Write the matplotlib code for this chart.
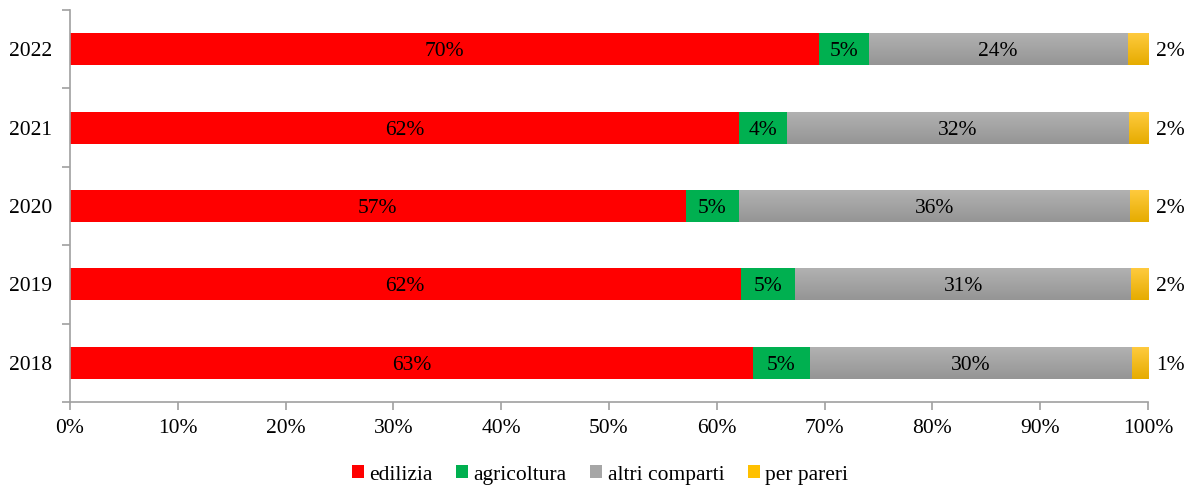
import matplotlib
matplotlib.use("Agg")
import matplotlib.pyplot as plt
import numpy as np
from matplotlib.colors import LinearSegmentedColormap

plt.rcParams['font.family'] = ['Liberation Serif', 'DejaVu Serif']

years = ['2018', '2019', '2020', '2021', '2022']
edilizia = [63.4, 62.2, 57.1, 62.1, 69.5]
agricoltura = [5.2, 5.1, 5.0, 4.4, 4.6]
altri = [29.9, 31.1, 36.2, 31.7, 24.0]
pareri = [1.5, 1.6, 1.7, 1.8, 1.9]
labels_edilizia = ['63%', '62%', '57%', '62%', '70%']
labels_agricoltura = ['5%', '5%', '5%', '4%', '5%']
labels_altri = ['30%', '31%', '36%', '32%', '24%']
labels_pareri = ['1%', '2%', '2%', '2%', '2%']
series_names = ['edilizia', 'agricoltura', 'altri comparti', 'per pareri']
xticks = [0, 10, 20, 30, 40, 50, 60, 70, 80, 90, 100]

fig = plt.figure(figsize=(11.92, 4.88), dpi=100)
ax = fig.add_axes([70/1192, 1 - 402/488, (1148-70)/1192, (402-10)/488])

y = np.arange(len(years))
h = 0.41
series = [edilizia, agricoltura, altri, pareri]
colors = ['#FF0000', '#00B050', '#A6A6A6', '#FFC000']
gradients = [None, None, ('#B2B2B2', '#959595'), ('#FFCB40', '#E6AC00')]
lbls = [labels_edilizia, labels_agricoltura, labels_altri, labels_pareri]

left = np.zeros(len(years))
for vals, col, grad, name, lab in zip(series, colors, gradients, series_names, lbls):
    vals = np.array(vals)
    bars = ax.barh(y, vals / 100, left=left / 100, height=h, color=col, label=name, linewidth=0)
    if grad is not None:
        cmap = LinearSegmentedColormap.from_list('g', [grad[0], grad[1]])
        for b in bars:
            x0, y0 = b.get_x(), b.get_y()
            w, hh = b.get_width(), b.get_height()
            im = ax.imshow(np.linspace(0, 1, 64).reshape(-1, 1), cmap=cmap, aspect='auto',
                           extent=[x0, x0 + w, y0, y0 + hh], origin='upper',
                           zorder=b.get_zorder() + 0.1, interpolation='bilinear')
            im.set_clip_path(b)
    for i, (l, v, t) in enumerate(zip(left, vals, lab)):
        if name == 'per pareri':
            ax.text(1.0075, y[i], t, ha='left', va='center_baseline', fontsize=15.5)
        else:
            ax.text((l + v / 2) / 100, y[i], t, ha='center', va='center_baseline', fontsize=15.5, zorder=5)
    left = left + vals

ax.set_xlim(0, 1)
ax.set_ylim(-0.5, len(years) - 0.5)
ax.set_xticks([t / 100 for t in xticks])
ax.set_xticklabels([f'{t}%' for t in xticks], fontsize=15.5)
ax.set_yticks(np.arange(-0.5, len(years), 1.0))
ax.set_yticklabels([])
ax.set_yticks(y, minor=True)
ax.set_yticklabels(years, minor=True, fontsize=15.5)
ax.tick_params(axis='y', which='minor', length=0, pad=13)
ax.tick_params(axis='y', which='major', length=6, color='#A0A0A0', width=1.2)
ax.tick_params(axis='x', which='major', length=6, color='#A0A0A0', width=1.2, pad=6)
for s in ['top', 'right']:
    ax.spines[s].set_visible(False)
for s in ['left', 'bottom']:
    ax.spines[s].set_color('#A0A0A0')
    ax.spines[s].set_linewidth(1.2)

handles, labs = ax.get_legend_handles_labels()
fig.legend(handles, labs, loc='center', bbox_to_anchor=(600/1192, 1 - 475/488), ncol=4,
           frameon=False, fontsize=15.5, handlelength=0.55, handleheight=0.55,
           handletextpad=0.25, columnspacing=1.1)

fig.savefig('out.png', dpi=100)
